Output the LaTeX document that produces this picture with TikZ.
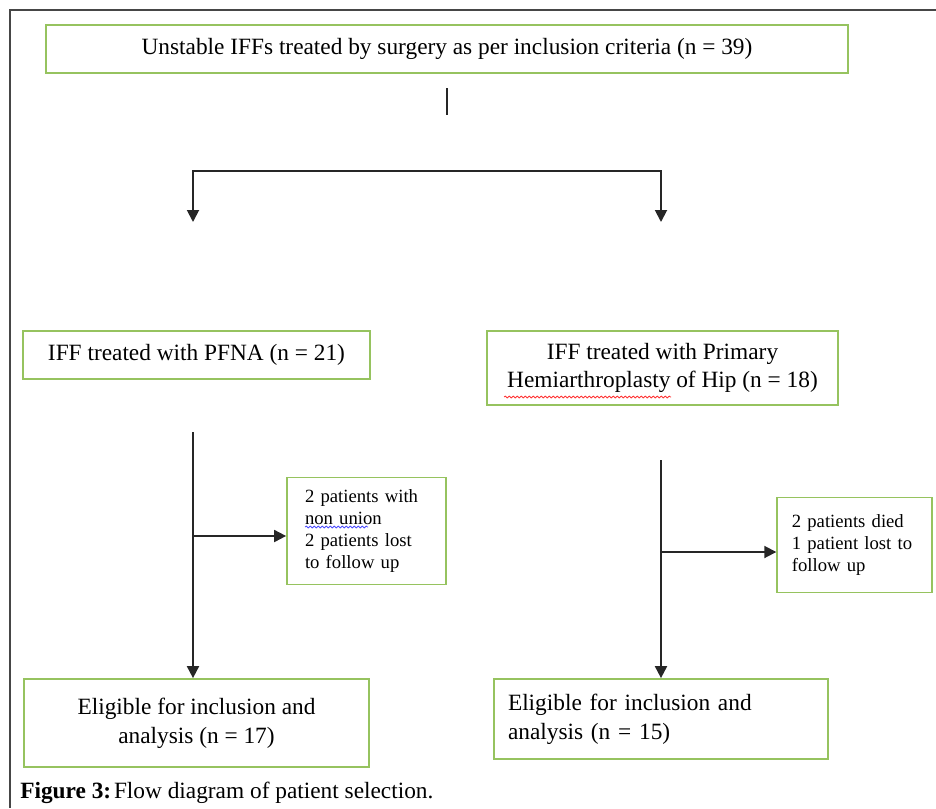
\documentclass[tikz,border=0pt]{standalone}
\usepackage{fontspec}
\setmainfont{Liberation Serif}
\usetikzlibrary{arrows.meta,decorations.pathmorphing}

\definecolor{boxgreen}{RGB}{150,195,95}
\definecolor{framegray}{RGB}{70,70,70}

\tikzset{
    flowbox/.style={draw=boxgreen, line width=1.3pt, inner sep=0pt, align=center,
        font=\fontsize{17.5}{21.5}\selectfont},
    sidebox/.style={draw=boxgreen, line width=1.3pt, inner ysep=0pt, align=left,
        font=\fontsize{14}{16.3}\selectfont},
    conn/.style={line width=1.4pt, black!85},
    tip/.style={-{Triangle[width=9pt,length=9pt]}},
    squiggle/.style={decorate, decoration={snake, amplitude=0.7pt, segment length=3pt}, line width=0.6pt}
}

\begin{document}
\begin{tikzpicture}[x=0.75pt, y=-0.75pt]
    \useasboundingbox (0,0) rectangle (936,808);
    % outer frame of the figure
    \draw[framegray, line width=1.5pt] (936,10) -- (10,10) -- (10,808);

    % boxes
    \node[flowbox, minimum width=601.5pt, minimum height=36pt] (total) at (447,49)
        {Unstable IFFs treated by surgery as per inclusion criteria (n = 39)};
    \node[flowbox, minimum width=260.25pt, minimum height=36pt] (pfna) at (196.5,355)
        {IFF treated with PFNA (n = 21)};
    \node[flowbox, minimum width=263.25pt, minimum height=55.5pt] (hemi) at (662.5,368)
        {IFF treated with Primary\\Hemiarthroplasty of Hip (n = 18)};
    \node[sidebox, text width=92.25pt, inner xsep=13.5pt, minimum height=80.25pt] (lostL) at (366.5,531)
        {2 patients with\\non union\\2 patients lost\\to follow up};
    \node[sidebox, text width=94pt, inner xsep=11pt, minimum height=71.25pt] (lostR) at (854.5,545)
        {2 patients died\\1 patient lost to\\follow up};
    \node[flowbox, minimum width=258.75pt, minimum height=66pt] (eligL) at (196.5,723)
        {Eligible for inclusion and\\analysis (n = 17)};
    \node[flowbox, align=left, minimum width=250.5pt, minimum height=60pt, inner xsep=10.5pt,
        text width=229.5pt] (eligR) at (661,719)
        {Eligible for inclusion and\\analysis (n = 15)};

    % caption
    \node[anchor=base west, inner sep=0pt, font=\fontsize{17.5}{20}\selectfont] (caption) at (20,798)
        {\textbf{Figure 3:}\hspace{0.12em}Flow diagram of patient selection.};

    % spelling marks
    \draw[squiggle, red!80] (504,397) -- (671,397);
    \draw[squiggle, blue!70] (305,527) -- (368,527);

    % connectors
    \coordinate (stemtop) at (447,88);
    \coordinate (stembot) at (447,115);
    \coordinate (forkL) at (193,171);
    \coordinate (forkR) at (661,171);
    \coordinate (tipL) at (193,222);
    \coordinate (tipR) at (661,222);
    \coordinate (trunkL) at (193,432);
    \coordinate (trunkR) at (661,460);
    \coordinate (branchL) at (193,536);
    \coordinate (branchR) at (661,552);

    \draw[conn] (stemtop) -- (stembot);
    \draw[conn, tip] (forkR) -- (forkL) -- (tipL);
    \draw[conn, tip] (forkL) -- (forkR) -- (tipR);
    \draw[conn, tip] (trunkL) -- (trunkL |- eligL.north);
    \draw[conn, tip] (branchL) -- (lostL.west |- branchL);
    \draw[conn, tip] (trunkR) -- (trunkR |- eligR.north);
    \draw[conn, tip] (branchR) -- (lostR.west |- branchR);
\end{tikzpicture}
\end{document}
